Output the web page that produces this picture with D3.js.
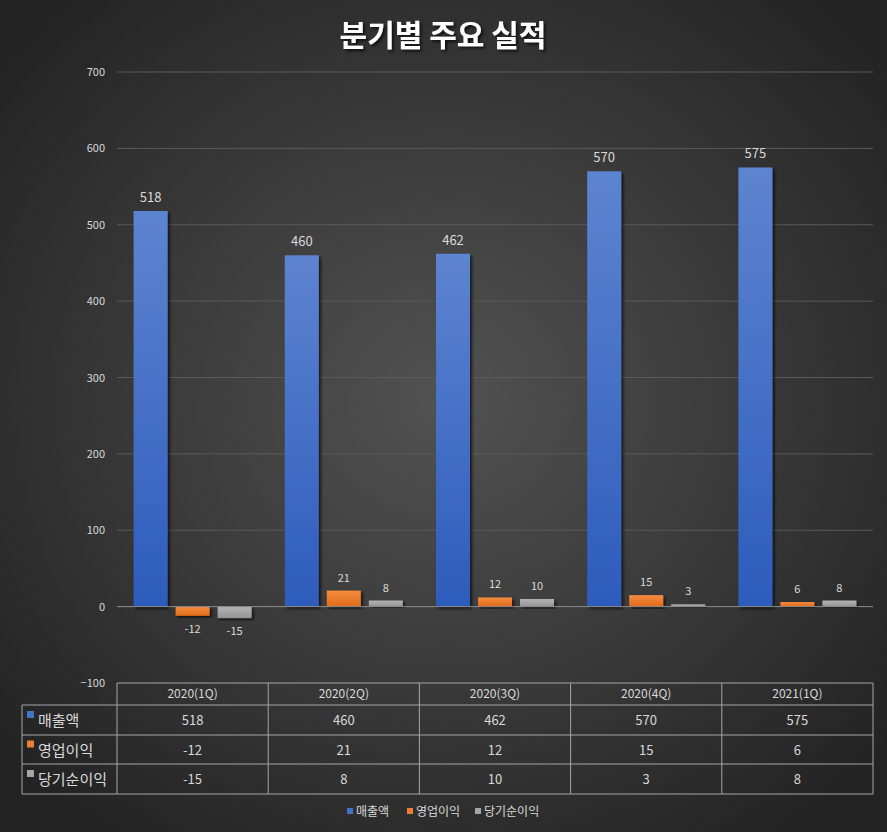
<!DOCTYPE html>
<html><head><meta charset="utf-8">
<script src="https://cdn.jsdelivr.net/npm/d3@7"></script>
<style>body{margin:0;background:#2a2a2a;}svg{display:block;}</style>
</head><body>
<script>
const categories = ["2020(1Q)","2020(2Q)","2020(3Q)","2020(4Q)","2021(1Q)"];
const seriesNames = ["매출액","영업이익","당기순이익"];
const sales = [518,460,462,570,575];
const opProfit = [-12,21,12,15,6];
const netProfit = [-15,8,10,3,8];
const yTicks = [-100,0,100,200,300,400,500,600,700];
const colors = ["#4472c4","#ed7d31","#a5a5a5"];
const seriesValues = [sales, opProfit, netProfit];

const W = 887, H = 832;
const svg = d3.select("body").append("svg").attr("width",W).attr("height",H);
const defs = svg.append("defs");
const bg = defs.append("radialGradient").attr("id","bg").attr("cx","50%").attr("cy","48%").attr("r","65%");
bg.append("stop").attr("offset","0%").attr("stop-color","#525252");
bg.append("stop").attr("offset","100%").attr("stop-color","#232323");
svg.append("rect").attr("width",W).attr("height",H).attr("fill","url(#bg)");

const gradStops = [["#5d84d0","#2d5cbc"],["#f58c3e","#e06a1a"],["#b5b5b5","#949494"]];
gradStops.forEach((g,i)=>{
  const lg = defs.append("linearGradient").attr("id","g"+i).attr("x1",0).attr("y1",0).attr("x2",0).attr("y2",1);
  lg.append("stop").attr("offset","0%").attr("stop-color",g[0]);
  lg.append("stop").attr("offset","100%").attr("stop-color",g[1]);
});
const sh = defs.append("filter").attr("id","sh").attr("x","-10%").attr("y","-10%").attr("width","130%").attr("height","130%");
sh.append("feDropShadow").attr("dx",2).attr("dy",2).attr("stdDeviation",1.5).attr("flood-color","#000").attr("flood-opacity",0.7);

const font = "'Malgun Gothic','Noto Sans CJK KR','Noto Sans',sans-serif";

svg.append("text").attr("x",443).attr("y",46).attr("text-anchor","middle")
  .attr("font-family",font).attr("font-weight","bold").attr("font-size",30)
  .attr("fill","#ffffff").attr("filter","url(#sh)").text("분기별 주요 실적");

const left = 117, right = 873;
const y = d3.scaleLinear().domain([-100,700]).range([683,72]);
const x = d3.scaleBand().domain(categories).range([left,right]);
const xs = d3.scaleBand().domain(d3.range(3)).range([0,x.bandwidth()]).paddingInner(0.19).paddingOuter(0.395);

// gridlines
svg.append("g").selectAll("line").data(yTicks.filter(t=>t!==0&&t!==-100)).join("line")
  .attr("x1",left).attr("x2",right).attr("y1",d=>y(d)).attr("y2",d=>y(d))
  .attr("stroke","#5a5a5a").attr("stroke-width",1);

// y axis labels
const yAxis = d3.axisLeft(y).tickValues(yTicks).tickSize(0).tickPadding(0);
const ya = svg.append("g").attr("transform",`translate(${left-12},0)`).call(yAxis);
ya.select(".domain").remove();
ya.selectAll("text").attr("font-family",font).attr("font-size",11).attr("fill","#d9d9d9");

// bars
const groups = svg.append("g").selectAll("g").data(categories).join("g")
  .attr("transform",d=>`translate(${x(d)},0)`);
seriesValues.forEach((vals,si)=>{
  groups.append("rect")
    .attr("x",xs(si)).attr("width",xs.bandwidth())
    .attr("y",(d,i)=>y(Math.max(0,vals[i])))
    .attr("height",(d,i)=>Math.abs(y(vals[i])-y(0)))
    .attr("fill",`url(#g${si})`)
    .attr("filter","url(#sh)");
  groups.append("text")
    .attr("x",xs(si)+xs.bandwidth()/2)
    .attr("y",(d,i)=> vals[i]>=0 ? y(vals[i])-9 : y(vals[i])+17)
    .attr("text-anchor","middle").attr("font-family",font)
    .attr("font-size",si===0?13:11).attr("fill","#d9d9d9")
    .text((d,i)=>vals[i]);
});

// zero line
svg.append("line").attr("x1",left).attr("x2",right).attr("y1",y(0)).attr("y2",y(0))
  .attr("stroke","#8c8c8c").attr("stroke-width",1);

// data table
const rowY = [683,705,735,764,794];
const tbl = svg.append("g");
const lineCol = "#a6a6a6";
tbl.append("line").attr("x1",left).attr("x2",right).attr("y1",rowY[0]).attr("y2",rowY[0]).attr("stroke",lineCol);
for(let r=1;r<rowY.length;r++){
  tbl.append("line").attr("x1",22).attr("x2",right).attr("y1",rowY[r]).attr("y2",rowY[r]).attr("stroke",lineCol);
}
tbl.append("line").attr("x1",22).attr("x2",22).attr("y1",rowY[1]).attr("y2",rowY[4]).attr("stroke",lineCol);
categories.forEach(c=>{
  tbl.append("line").attr("x1",x(c)).attr("x2",x(c)).attr("y1",rowY[0]).attr("y2",rowY[4]).attr("stroke",lineCol);
});
tbl.append("line").attr("x1",right).attr("x2",right).attr("y1",rowY[0]).attr("y2",rowY[4]).attr("stroke",lineCol);
tbl.selectAll("text.h").data(categories).join("text")
  .attr("x",d=>x(d)+x.bandwidth()/2).attr("y",(rowY[0]+rowY[1])/2+4)
  .attr("text-anchor","middle").attr("font-family",font).attr("font-size",12).attr("fill","#d9d9d9").text(d=>d);
seriesValues.forEach((vals,si)=>{
  const cy = (rowY[si+1]+rowY[si+2])/2;
  tbl.append("rect").attr("x",27).attr("y",cy-9).attr("width",7).attr("height",7).attr("fill",colors[si]);
  tbl.append("text").attr("x",38).attr("y",cy+6).attr("font-family",font).attr("font-size",15)
    .attr("fill","#d9d9d9").text(seriesNames[si]);
  tbl.selectAll(null).data(categories).join("text")
    .attr("x",d=>x(d)+x.bandwidth()/2).attr("y",cy+5)
    .attr("text-anchor","middle").attr("font-family",font).attr("font-size",13).attr("fill","#d9d9d9")
    .text((d,i)=>vals[i]);
});

// legend
const legX = [347,407,475];
const lg = svg.append("g");
seriesNames.forEach((n,i)=>{
  lg.append("rect").attr("x",legX[i]).attr("y",808).attr("width",6).attr("height",6).attr("fill",colors[i]);
  lg.append("text").attr("x",legX[i]+9).attr("y",816).attr("font-family",font).attr("font-size",12)
    .attr("fill","#d9d9d9").text(n);
});
</script>
</body></html>
